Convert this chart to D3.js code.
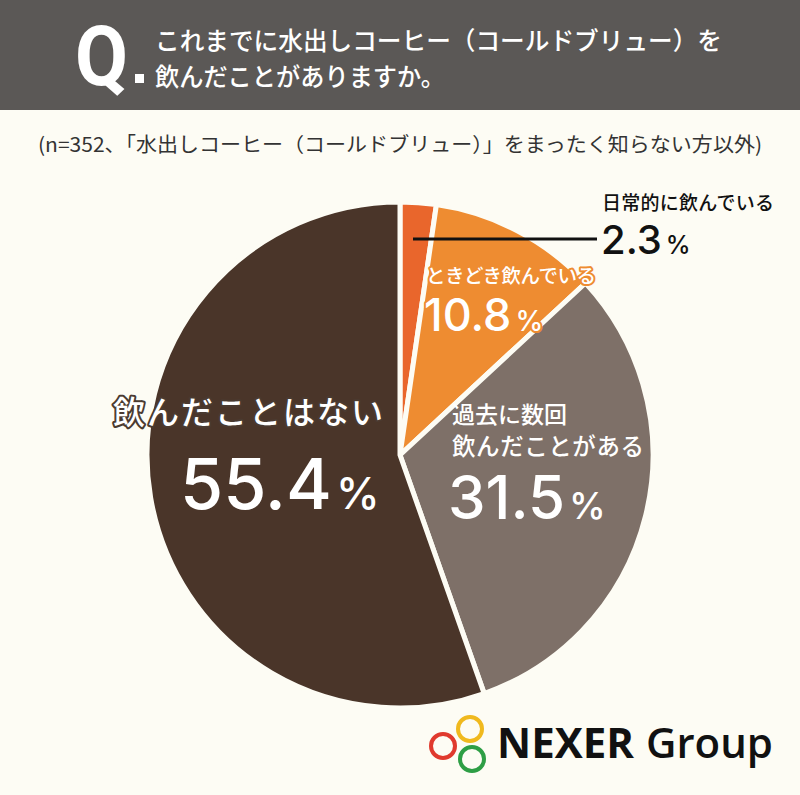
<!DOCTYPE html>
<html><head><meta charset="utf-8">
<script src="https://cdn.jsdelivr.net/npm/d3@7"></script>
<style>
html,body{margin:0;padding:0;background:#fdfcf4;}
svg{display:block;}
</style></head>
<body>
<script>
const categories = ["日常的に飲んでいる","ときどき飲んでいる","過去に数回飲んだことがある","飲んだことはない"];
const values = [2.3, 10.8, 31.5, 55.4];
const colors = ["#e9662c","#ee8c31","#7e7068","#4a3529"];
const title1 = "これまでに水出しコーヒー（コールドブリュー）を";
const title2 = "飲んだことがありますか。";
const subtitle = "(n=352、「水出しコーヒー（コールドブリュー）」をまったく知らない方以外)";

const W = 800, H = 795;
const JP = "'Noto Sans CJK JP','Noto Sans',sans-serif";
const NUM = "Inter,Lato,'Noto Sans',sans-serif";
const svg = d3.select("body").append("svg").attr("width", W).attr("height", H);
svg.append("rect").attr("width", W).attr("height", H).attr("fill", "#fdfcf4");

// header
svg.append("rect").attr("width", W).attr("height", 110).attr("fill", "#5b5856");
svg.append("text").attr("x", 75).attr("y", 85).attr("fill", "#fff")
  .style("font-family", "'Liberation Sans Narrow',Roboto,sans-serif").style("font-weight", 700).style("font-size", "84px")
  .attr("textLength", 53).attr("lengthAdjust", "spacingAndGlyphs").text("Q");
svg.append("rect").attr("x", 135).attr("y", 74).attr("width", 9).attr("height", 9).attr("fill", "#fff");
const ttl = svg.append("text").attr("fill", "#fff")
  .style("font-family", JP).style("font-size", "25px").style("font-weight", 500);
ttl.append("tspan").attr("x", 155).attr("y", 50)
  .attr("textLength", 567).attr("lengthAdjust", "spacingAndGlyphs").text(title1);
ttl.append("tspan").attr("x", 155).attr("y", 86)
  .attr("textLength", 290).attr("lengthAdjust", "spacingAndGlyphs").text(title2);

// subtitle
svg.append("text").attr("x", 38).attr("y", 152).attr("fill", "#333")
  .style("font-family", JP).style("font-size", "20px")
  .attr("textLength", 724).attr("lengthAdjust", "spacingAndGlyphs").text(subtitle);

// pie
const cx = 400, cy = 455, R = 253;
const pie = d3.pie().sort(null).value(d => d)(values);
const arc = d3.arc().innerRadius(0).outerRadius(R);
const g = svg.append("g").attr("transform", `translate(${cx},${cy})`);
g.selectAll("path").data(pie).join("path")
  .attr("d", arc).attr("fill", (d, i) => colors[i])
  .attr("stroke", "#fdfcf4").attr("stroke-width", 5).attr("stroke-linejoin", "round");

// label helper: one text element, several lines (tspans)
function label(lines, fill, stroke, sw) {
  const t = svg.append("text").attr("fill", fill);
  if (stroke) t.attr("stroke", stroke).attr("stroke-width", sw).attr("stroke-linejoin", "round").style("paint-order", "stroke");
  lines.forEach(L => {
    if (L.jp) {
      const s = t.append("tspan").attr("x", L.x).attr("y", L.y)
        .style("font-family", JP).style("font-size", L.size + "px").style("font-weight", 500).text(L.jp);
      if (L.len) s.attr("textLength", L.len).attr("lengthAdjust", "spacing");
    } else {
      t.append("tspan").attr("x", L.x).attr("y", L.y)
        .style("font-family", NUM).style("font-size", L.size + "px").style("font-weight", 500)
        .text(d3.format(".1f")(L.v));
      t.append("tspan").attr("dx", 4)
        .style("font-family", NUM).style("font-size", L.psize + "px").style("font-weight", 500).text("%");
    }
  });
  return t;
}

// 2.3% callout
svg.append("line").attr("x1", 413).attr("x2", 597).attr("y1", 239).attr("y2", 239)
  .attr("stroke", "#111").attr("stroke-width", 3);
label([{jp: categories[0], x: 602, y: 210, size: 19, len: 172},
       {v: values[0], x: 601, y: 254, size: 40, psize: 25}], "#111");

// 10.8%
label([{jp: categories[1], x: 426, y: 283, size: 19.5, len: 170},
       {v: values[1], x: 424, y: 331, size: 45, psize: 28}], "#fff", colors[1], 4);

// 31.5%
label([{jp: "過去に数回", x: 452, y: 423, size: 23},
       {jp: "飲んだことがある", x: 452, y: 455, size: 23.5, len: 192},
       {v: values[2], x: 448, y: 519, size: 60, psize: 37}], "#fff");

// 55.4%
label([{jp: categories[3], x: 113, y: 424, size: 32, len: 270}], "#fff", "#4a3a30", 4);
label([{v: values[3], x: 180, y: 509, size: 70, psize: 44}], "#fff");

// logo
const logo = svg.append("g");
[["#f0b91e", 470, 729], ["#e03a2e", 443, 746], ["#2e9e45", 472, 759]].forEach(([c, x, y]) => {
  logo.append("circle").attr("cx", x).attr("cy", y).attr("r", 12)
    .attr("fill", "none").attr("stroke", c).attr("stroke-width", 4);
});
svg.append("text").attr("x", 497).attr("y", 758).attr("fill", "#111")
  .style("font-family", "'Open Sans',sans-serif").style("font-weight", 700).style("font-size", "42px")
  .attr("textLength", 137).attr("lengthAdjust", "spacingAndGlyphs").text("NEXER");
svg.append("text").attr("x", 646).attr("y", 758).attr("fill", "#111")
  .style("font-family", "'Open Sans',sans-serif").style("font-weight", 600).style("font-size", "41px")
  .attr("textLength", 127).attr("lengthAdjust", "spacingAndGlyphs").text("Group");
</script>
</body></html>
